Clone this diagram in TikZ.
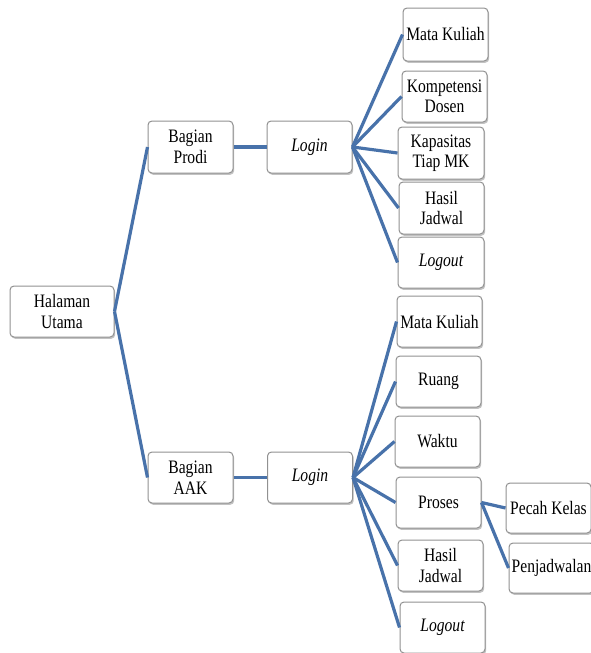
\documentclass[tikz,border=0pt]{standalone}
\usepackage{fontspec}
\setmainfont{Liberation Serif}[FakeStretch=0.82]
\usetikzlibrary{shadows}
\definecolor{linkblue}{RGB}{72,114,170}
\definecolor{boxgray}{RGB}{145,145,145}
\tikzset{
  box/.style={draw=boxgray, line width=1pt, fill=white, rounded corners=4pt,
    minimum width=85pt, minimum height=51pt, inner sep=1pt, align=center,
    font=\fontsize{19}{20.5}\selectfont,
    drop shadow={shadow xshift=1.2pt, shadow yshift=-1.8pt, opacity=0.4, fill=black!60}},
  link/.style={draw=linkblue, line width=3.2pt}
}
\begin{document}
\begin{tikzpicture}[x=1pt,y=-1pt]
\useasboundingbox (0,0) rectangle (591,653);
\clip (0,0) rectangle (591,653);
% root and second level
\node[box, minimum width=104pt] (hu) at (62,311.5) {Halaman\\Utama};
\node[box, minimum height=52pt] (bp) at (190.5,147) {Bagian\\Prodi};
\node[box, minimum height=52pt] (lp) at (309.5,147) {\itshape Login};
\node[box] (ba) at (190.5,477.5) {Bagian\\AAK};
\node[box] (la) at (310,477.5) {\itshape Login};
% menu of Bagian Prodi
\node[box, minimum height=53pt] (m1) at (445.5,34.5) {Mata Kuliah};
\node[box] (k1) at (444.5,96.5) {Kompetensi\\Dosen};
\node[box, minimum width=86pt, minimum height=52pt] (c1) at (441,153) {Kapasitas\\Tiap MK};
\node[box, minimum height=52pt] (h1) at (441.5,208) {Hasil\\Jadwal};
\node[box, minimum width=86pt] (o1) at (441,262.5) {\itshape Logout};
% menu of Bagian AAK
\node[box] (m2) at (439.5,321.5) {Mata Kuliah};
\node[box] (r2) at (438.5,381.5) {Ruang};
\node[box] (w2) at (437.5,441.5) {Waktu};
\node[box] (p2) at (438.5,502.5) {Proses};
\node[box] (h2) at (440.5,565.5) {Hasil\\Jadwal};
\node[box] (o2) at (442.5,627.5) {\itshape Logout};
% sub-menu of Proses
\node[box, minimum height=50pt] (pk) at (548.5,508) {Pecah Kelas};
\node[box, minimum height=50pt] (pj) at (551.5,568) {Penjadwalan};
% connectors
\draw[link] (hu.east) -- (bp.west);
\draw[link] (hu.east) -- (ba.west);
\draw[link] (bp.east) -- (lp.west);
\draw[link] (ba.east) -- (la.west);
\foreach \n in {m1,k1,c1,h1,o1} \draw[link] (lp.east) -- (\n.west);
\foreach \n in {m2,r2,w2,p2,h2,o2} \draw[link] (la.east) -- (\n.west);
\draw[link] (p2.east) -- (pk.west);
\draw[link] (p2.east) -- (pj.west);
\end{tikzpicture}
\end{document}
